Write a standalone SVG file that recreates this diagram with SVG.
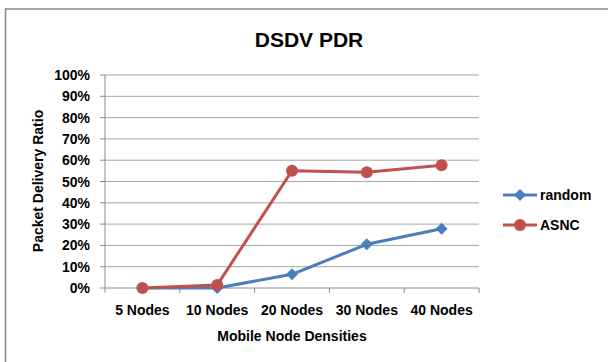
<svg xmlns="http://www.w3.org/2000/svg" width="608" height="362" viewBox="0 0 608 362">
<style>
text{font-family:"Liberation Sans",Arial,sans-serif;font-weight:bold;fill:#000}
.tk{font-size:14px;text-anchor:end}
.cat{font-size:14px;text-anchor:middle}
.grid{stroke:#a6a6a6;stroke-width:1}
.axis{stroke:#8c8c8c;stroke-width:1;fill:none}
.blue{stroke:#4a7ebb;stroke-width:3;fill:none;stroke-linejoin:round}
.red{stroke:#c0504d;stroke-width:3;fill:none;stroke-linejoin:round}
.dm{fill:#4a7ebb}
.ci{fill:#c0504d}
</style>
<defs>
<path id="dia" d="M0,-6 L6,0 L0,6 L-6,0 Z"/>
</defs>
<rect x="0" y="0" width="608" height="362" fill="#fff"/>
<path d="M5.5,362 V9 H608" stroke="#888" stroke-width="1.5" fill="none"/>
<text x="309" y="47" font-size="21" text-anchor="middle">DSDV PDR</text>
<g id="gridlines">
<line class="grid" x1="105" y1="75" x2="479" y2="75"/>
<line class="grid" x1="105" y1="96.3" x2="479" y2="96.3"/>
<line class="grid" x1="105" y1="117.6" x2="479" y2="117.6"/>
<line class="grid" x1="105" y1="138.9" x2="479" y2="138.9"/>
<line class="grid" x1="105" y1="160.2" x2="479" y2="160.2"/>
<line class="grid" x1="105" y1="181.5" x2="479" y2="181.5"/>
<line class="grid" x1="105" y1="202.8" x2="479" y2="202.8"/>
<line class="grid" x1="105" y1="224.1" x2="479" y2="224.1"/>
<line class="grid" x1="105" y1="245.4" x2="479" y2="245.4"/>
<line class="grid" x1="105" y1="266.7" x2="479" y2="266.7"/>
</g>
<g id="axes">
<path class="axis" d="M105,75 V288 H479"/>
<path class="axis" d="M100,75 H105 M100,96.3 H105 M100,117.6 H105 M100,138.9 H105 M100,160.2 H105 M100,181.5 H105 M100,202.8 H105 M100,224.1 H105 M100,245.4 H105 M100,266.7 H105 M100,288 H105"/>
<path class="axis" d="M105,288 V293 M179.8,288 V293 M254.6,288 V293 M329.4,288 V293 M404.2,288 V293 M479,288 V293"/>
</g>
<g id="yticks">
<text class="tk" x="90" y="80">100%</text>
<text class="tk" x="90" y="101.3">90%</text>
<text class="tk" x="90" y="122.6">80%</text>
<text class="tk" x="90" y="143.9">70%</text>
<text class="tk" x="90" y="165.2">60%</text>
<text class="tk" x="90" y="186.5">50%</text>
<text class="tk" x="90" y="207.8">40%</text>
<text class="tk" x="90" y="229.1">30%</text>
<text class="tk" x="90" y="250.4">20%</text>
<text class="tk" x="90" y="271.7">10%</text>
<text class="tk" x="90" y="293">0%</text>
</g>
<g id="xticks">
<text class="cat" x="142.4" y="315">5 Nodes</text>
<text class="cat" x="217.2" y="315">10 Nodes</text>
<text class="cat" x="292" y="315">20 Nodes</text>
<text class="cat" x="366.8" y="315">30 Nodes</text>
<text class="cat" x="441.6" y="315">40 Nodes</text>
</g>
<text x="292" y="341" font-size="14" text-anchor="middle">Mobile Node Densities</text>
<text transform="translate(43,181) rotate(-90)" font-size="14" text-anchor="middle">Packet Delivery Ratio</text>
<g id="connectors">
<polyline class="blue" points="142.4,288 217.2,288 292,274.3 366.8,244.3 441.6,228.7"/>
<polyline class="red" points="142.4,288 217.2,285 292,170.7 366.8,172.3 441.6,165.3"/>
</g>
<g id="series-random">
<use href="#dia" class="dm" x="142.4" y="288"/>
<use href="#dia" class="dm" x="217.2" y="288"/>
<use href="#dia" class="dm" x="292" y="274.3"/>
<use href="#dia" class="dm" x="366.8" y="244.3"/>
<use href="#dia" class="dm" x="441.6" y="228.7"/>
</g>
<g id="series-asnc">
<circle class="ci" cx="142.4" cy="288" r="6"/>
<circle class="ci" cx="217.2" cy="285" r="6"/>
<circle class="ci" cx="292" cy="170.7" r="6"/>
<circle class="ci" cx="366.8" cy="172.3" r="6"/>
<circle class="ci" cx="441.6" cy="165.3" r="6"/>
</g>
<g id="legend">
<line class="blue" x1="503" y1="195" x2="537" y2="195"/>
<use href="#dia" class="dm" x="520" y="195"/>
<text x="540" y="200" font-size="14">random</text>
<line class="red" x1="503" y1="225" x2="537" y2="225"/>
<circle class="ci" cx="520" cy="225" r="6"/>
<text x="540" y="230" font-size="14">ASNC</text>
</g>
</svg>
